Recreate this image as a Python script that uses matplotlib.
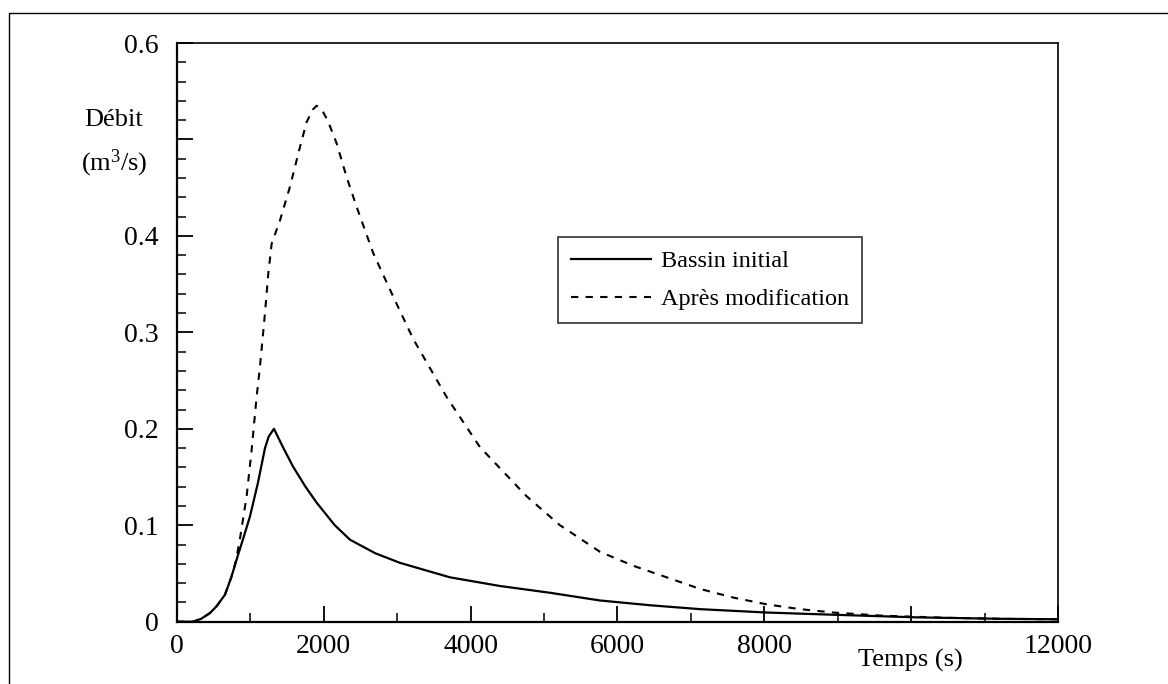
import matplotlib
matplotlib.use("Agg")
import matplotlib.pyplot as plt
from matplotlib.patches import Rectangle
from matplotlib.ticker import MultipleLocator

# Bassin initial (solid)
t_initial = [0, 220, 330, 450, 540, 654, 740, 831, 910, 994, 1103, 1199, 1250, 1321, 1450,
             1580, 1750, 1907, 2150, 2357, 2700, 3038, 3400, 3718, 4400, 5080, 5761, 6450,
             7124, 8032, 8940, 10076, 11210, 12000]
q_initial = [0.0, 0.0, 0.003, 0.009, 0.016, 0.028, 0.046, 0.069, 0.088, 0.109, 0.144, 0.180,
             0.192, 0.200, 0.180, 0.161, 0.140, 0.123, 0.100, 0.085, 0.071, 0.061, 0.053,
             0.046, 0.037, 0.030, 0.022, 0.017, 0.013, 0.0095, 0.0072, 0.0045, 0.003, 0.0025]

# Apres modification (dashed)
t_modif = [0, 220, 330, 450, 540, 654, 740, 800, 858, 949, 1017, 1085, 1130, 1199, 1244,
           1290, 1403, 1539, 1675, 1766, 1850, 1903, 1980, 2057, 2175, 2311, 2448, 2674,
           2946, 3219, 3491, 3673, 4127, 4763, 5217, 5761, 6215, 6670, 7124, 7577, 8032,
           8486, 8940, 9616, 10500, 11210, 12000]
q_modif = [0.0, 0.0, 0.003, 0.009, 0.016, 0.028, 0.046, 0.062, 0.086, 0.130, 0.178, 0.233,
           0.264, 0.320, 0.361, 0.392, 0.416, 0.451, 0.492, 0.518, 0.531, 0.535, 0.530,
           0.519, 0.496, 0.461, 0.430, 0.382, 0.337, 0.293, 0.257, 0.233, 0.181, 0.130,
           0.100, 0.0725, 0.058, 0.046, 0.034, 0.025, 0.018, 0.013, 0.0095, 0.0062, 0.004,
           0.003, 0.0025]

x_ticks = [0, 2000, 4000, 6000, 8000, 10000, 12000]
x_labels = ["0", "2000", "4000", "6000", "8000", "", "12000"]
y_ticks = [0, 0.1, 0.2, 0.3, 0.4, 0.5, 0.6]
y_labels = ["0", "0.1", "0.2", "0.3", "0.4", "", "0.6"]

plt.rcParams["font.family"] = ["Liberation Serif", "DejaVu Serif"]
plt.rcParams["mathtext.fontset"] = "custom"
plt.rcParams["mathtext.rm"] = "Liberation Serif"
plt.rcParams["mathtext.it"] = "Liberation Serif:italic"

fig = plt.figure(figsize=(11.68, 6.84), dpi=100)
ax = fig.add_axes([0.1515, 0.0911, 0.7543, 0.846])

ax.plot(t_initial, q_initial, color="black", lw=1.6, label="Bassin initial")
ax.plot(t_modif, q_modif, color="black", lw=1.5, dashes=(3.5, 3.5), label="Après modification")

ax.set_xlim(0, 12000)
ax.set_ylim(0, 0.6)
ax.set_xticks(x_ticks)
ax.set_xticklabels(x_labels)
ax.set_yticks(y_ticks)
ax.set_yticklabels(y_labels)
ax.xaxis.set_minor_locator(MultipleLocator(1000))
ax.yaxis.set_minor_locator(MultipleLocator(0.02))
ax.tick_params(which="major", direction="in", length=11.5, width=1.3, labelsize=20,
               top=False, right=False)
ax.tick_params(axis="y", which="major", pad=13)
ax.tick_params(axis="x", which="major", pad=9)
ax.tick_params(which="minor", direction="in", length=6.5, width=1.1, top=False, right=False)
for side in ax.spines.values():
    side.set_linewidth(1.2)
ax.spines["left"].set_linewidth(1.6)
ax.spines["bottom"].set_linewidth(1.6)

leg = ax.legend(loc="upper left", bbox_to_anchor=(0.432, 0.665), borderaxespad=0,
                fontsize=17.5, frameon=True, fancybox=False, edgecolor="black",
                handlelength=3.3, handletextpad=0.4, borderpad=0.55, labelspacing=0.65)
leg.get_frame().set_linewidth(1.2)

fig.text(114 / 1168, 1 - 120 / 684, "Débit", fontsize=19, ha="center", va="center")
fig.text(114 / 1168, 1 - 163 / 684, "(m$^3$/s)", fontsize=19, ha="center", va="center")
fig.text(910 / 1168, 1 - 660 / 684, "Temps (s)", fontsize=19, ha="center", va="center")

fig.add_artist(Rectangle((9 / 1168, -0.1), 1.2, 1.1 - 13 / 684, transform=fig.transFigure,
                         fill=False, lw=1.0, edgecolor="black"))

fig.savefig("out.png", dpi=100)
